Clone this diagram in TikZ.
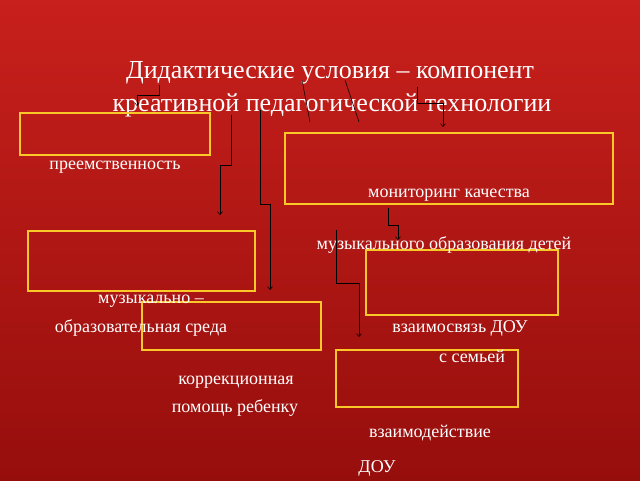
\documentclass[tikz,border=0pt]{standalone}
\usepackage{fontspec}
\setmainfont{Liberation Serif}
\usetikzlibrary{arrows.meta, positioning}

\definecolor{bgtop}{RGB}{200,32,28}
\definecolor{bgbot}{RGB}{150,14,12}
\definecolor{frameyel}{RGB}{250,200,40}

\tikzset{
  frame/.style={draw=frameyel, line width=1.2pt},
  lbl/.style={text=white, font=\fontsize{18}{20}\selectfont, inner sep=0pt},
  conn/.style={draw=black, line width=0.5pt},
  arr/.style={conn, -{Straight Barb[length=3pt,width=5pt]}}
}

\begin{document}
\begin{tikzpicture}[x=1pt, y=-1pt]

	% Background
	\shade[top color=bgtop, bottom color=bgbot] (0,0) rectangle (640,480);
	\useasboundingbox (0,0) rectangle (640,480);

	% Title
	\node[lbl, font=\fontsize{26}{28}\selectfont] (t1) at (330,73) {Дидактические условия – компонент};
	\node[lbl, font=\fontsize{26}{28}\selectfont] (t2) at (332,105) {креативной педагогической технологии};

	% Frames
	\draw[frame] (20,113) rectangle (210,155);
	\draw[frame] (285,133) rectangle (613,204);
	\draw[frame] (28,231) rectangle (255,291);
	\draw[frame] (366,250) rectangle (558,315);
	\draw[frame] (142,302) rectangle (321,350);
	\draw[frame] (336,350) rectangle (518,407);

	% Labels
	\node[lbl] (cont) at (115,167) {преемственность};
	\node[lbl] (mon1) at (449,195) {мониторинг качества};
	\node[lbl] (mon2) at (444,245) {музыкального образования детей};
	\node[lbl] (env1) at (151,301) {музыкально –};
	\node[lbl] (env2) at (141,328) {образовательная среда};
	\node[lbl] (fam1) at (460,328) {взаимосвязь ДОУ};
	\node[lbl] (fam2) at (472,356) {с семьей};
	\node[lbl] (cor1) at (236,382) {коррекционная};
	\node[lbl] (cor2) at (235,408) {помощь ребенку};
	\node[lbl] (int1) at (430,433) {взаимодействие};
	\node[lbl] (int2) at (377,468) {ДОУ};

	% Connector ends
	\coordinate (a0) at (159,85);  \coordinate (a1) at (137,106);
	\coordinate (b0) at (231,115); \coordinate (b1) at (220,215);
	\coordinate (c0) at (260,110); \coordinate (c1) at (270,290);
	\coordinate (e0) at (417,87);  \coordinate (e1) at (443,127);
	\coordinate (f0) at (388,208); \coordinate (f1) at (398,240);
	\coordinate (g0) at (336,230); \coordinate (g1) at (359,337);

	% Connectors
	\draw[arr] (a0) |- (a0 |- 0,95) -| (a1);
	\draw[arr] (b0) |- (b0 |- 0,165) -| (b1);
	\draw[arr] (c0) |- (c0 |- 0,204) -| (c1);
	\draw[arr] (e0) |- (e0 |- 0,103) -| (e1);
	\draw[arr] (f0) |- (f0 |- 0,225) -| (f1);
	\draw[arr] (g0) |- (g0 |- 0,283) -| (g1);
	\draw[conn] (302,80) -- (310,122);
	\draw[conn] (345,80) -- (359,122);

\end{tikzpicture}
\end{document}
